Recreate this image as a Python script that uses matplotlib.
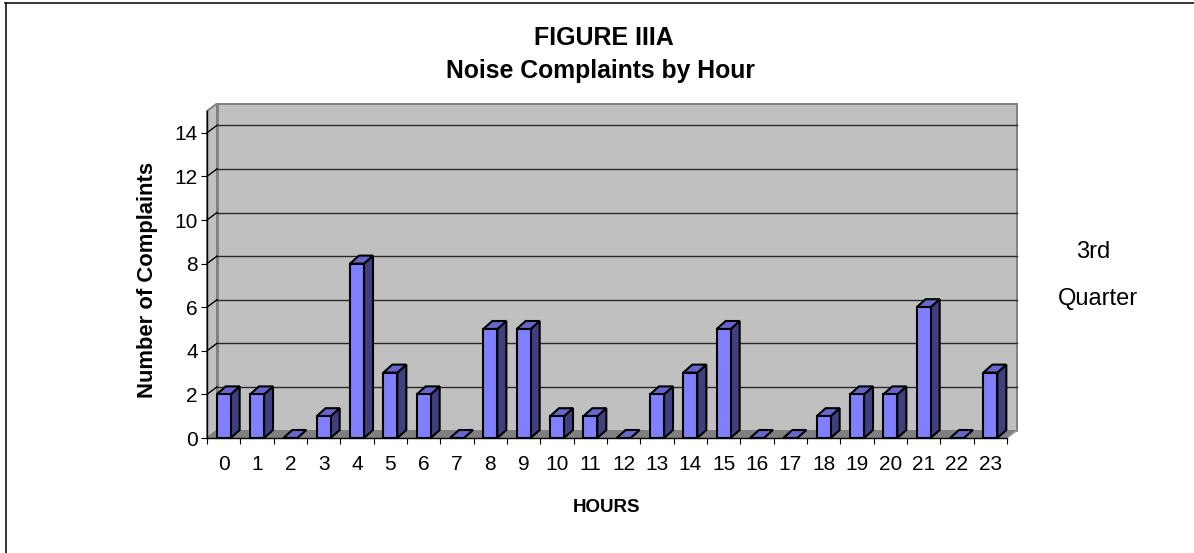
import matplotlib
matplotlib.use("Agg")
import matplotlib.pyplot as plt
from matplotlib.patches import Polygon, Rectangle
from matplotlib.lines import Line2D
from matplotlib.transforms import Affine2D

hours = list(range(24))
complaints = [2, 2, 0, 1, 8, 3, 2, 0, 5, 5, 1, 1, 0, 2, 3, 5, 0, 0, 1, 2, 2, 6, 0, 3]
yticks = [0, 2, 4, 6, 8, 10, 12, 14]
title_lines = ["FIGURE IIIA", "Noise Complaints by Hour"]
x_label = "HOURS"
y_label = "Number of Complaints"
side_text = ["3rd", "Quarter"]

W, H = 1194, 553
plt.rcParams['font.family'] = ['Liberation Sans', 'DejaVu Sans']
fig = plt.figure(figsize=(W / 100, H / 100), dpi=100, facecolor='white')

# Front plane of the pseudo-3D box, in pixels
L, R, B, T = 207, 1007, 438, 111
ax = fig.add_axes([L / W, 1 - B / H, (R - L) / W, (B - T) / H])
ax.set_xlim(0, 24)
ax.set_ylim(0, 15)
ax.patch.set_visible(False)
for s in ('top', 'right', 'bottom'):
    ax.spines[s].set_visible(False)
ax.spines['left'].set_color('black')
ax.spines['left'].set_linewidth(1)
ax.spines['left'].set_zorder(6)

DX, DY = 10, 7.5
BDX, BDY = 9, 8
back = ax.transData + Affine2D().translate(DX, DY)
td = ax.transData

def poly(pts, fc, ec='none', lw=0, tr=td, z=1):
    p = Polygon(pts, closed=True, facecolor=fc, edgecolor=ec, linewidth=lw,
                transform=tr, zorder=z, clip_on=False, joinstyle='miter')
    ax.add_patch(p)

xmax, ymax = 24, 15
xstep = 24 * DX / (R - L)
ystep = 15 * DY / (B - T)
WALL = '#c0c0c0'
FLOOR = '#808080'
poly([(0, 0), (xmax, 0), (xmax, ymax), (0, ymax)], WALL, '#808080', 1.4, back, 1)
poly([(0, 0), (xstep, ystep), (xstep, ymax + ystep), (0, ymax)], WALL, '#808080', 1.4, td, 1.1)
poly([(0, 0), (xmax, 0), (xmax + xstep, ystep), (xstep, ystep)], FLOOR, 'none', 0, td, 1.2)
ax.plot([xstep, xstep], [ystep, ymax + ystep], color='#808080', lw=2, zorder=1.3, clip_on=False)
ax.plot([xmax, xmax + xstep], [0, ystep], color='#a0a0a0', lw=1, zorder=1.3, clip_on=False)

for v in yticks[1:]:
    ax.plot([0, xmax], [v, v], transform=back, color='#2a2a2a', lw=1, zorder=1.5, clip_on=False)
    ax.plot([0, xstep], [v, v + ystep], color='black', lw=1, zorder=1.5, clip_on=False)

bw = 14 / ((R - L) / 24)
bx = 24 * BDX / (R - L)
by = 15 * BDY / (B - T)
for h, v in zip(hours, complaints):
    x0 = h + 0.5 - bw / 2
    x1 = x0 + bw
    if v > 0:
        poly([(x1, 0), (x1 + bx, by), (x1 + bx, v + by), (x1, v)], '#40407f', 'black', 1.5, td, 3)
    poly([(x0, v), (x1, v), (x1 + bx, v + by), (x0 + bx, v + by)], '#6666cc', 'black', 1.5, td, 3)
    if v > 0:
        ax.add_patch(Rectangle((x0, 0), bw, v, facecolor='#8080ff', edgecolor='black',
                               linewidth=1.5, zorder=3.1, clip_on=False))

ax.set_yticks(yticks)
ax.set_xticks(range(25))
ax.set_xticklabels([])
ax.xaxis.set_tick_params(length=4.5, width=0.8, color='black')
ax.yaxis.set_tick_params(length=4.5, width=0.8, color='black', labelsize=15, pad=2)
ax.plot([0, 24], [0, 0], color='black', lw=1, zorder=5, clip_on=False)
for h in hours:
    ax.annotate(str(h), xy=(h + 0.5, 0), xytext=(0, -17), textcoords='offset pixels',
                ha='center', va='top', fontsize=15, color='black', annotation_clip=False)

fig.text(603.5 / W, 1 - 45 / H, title_lines[0], ha='center', va='baseline',
         fontsize=18, fontweight='bold')
fig.text(600.5 / W, 1 - 78 / H, title_lines[1], ha='center', va='baseline',
         fontsize=17.8, fontweight='bold')
fig.text(606 / W, 1 - 512 / H, x_label, ha='center', va='baseline', fontsize=13.5, fontweight='bold')
fig.text(147.5 / W, 1 - 279.5 / H, y_label, ha='center', va='center', rotation=90, fontsize=15.8,
         fontweight='bold')
fig.text(1093.5 / W, 1 - 252 / H, side_text[0], ha='center', va='center', fontsize=17)
fig.text(1097.5 / W, 1 - 299 / H, side_text[1], ha='center', va='center', fontsize=17)

# chart-area border: only left and top edges are visible
fig.add_artist(Line2D([5.5 / W, 5.5 / W], [0, 1 - 3 / H], transform=fig.transFigure,
                      color='black', lw=1.1))
fig.add_artist(Line2D([5 / W, 1], [1 - 3 / H, 1 - 3 / H], transform=fig.transFigure,
                      color='black', lw=1.1))
fig.savefig('out.png', dpi=100, facecolor='white')
